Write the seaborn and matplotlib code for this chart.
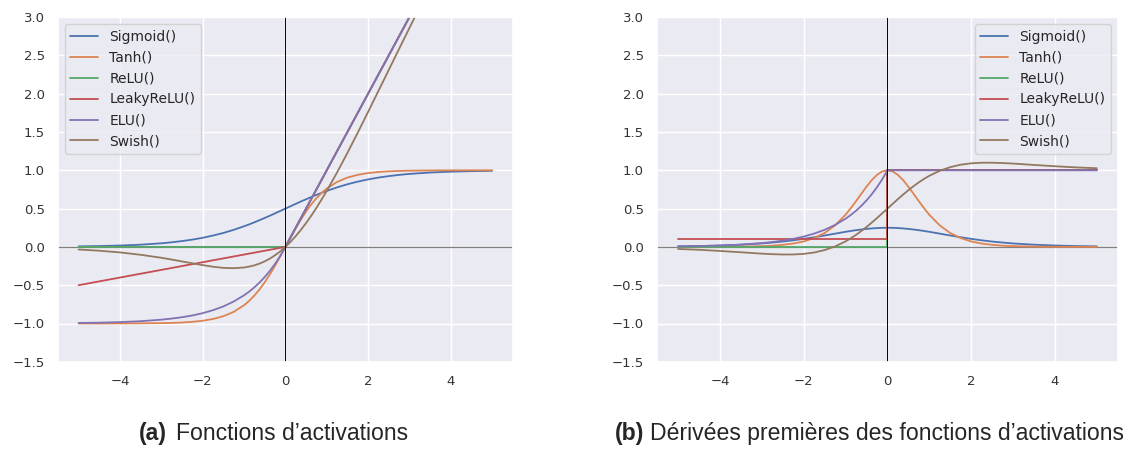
import matplotlib
matplotlib.use("Agg")
import matplotlib.pyplot as plt
import pandas as pd
import seaborn as sns

sns.set_theme(style="darkgrid", palette="deep")

names = ["Sigmoid()", "Tanh()", "ReLU()", "LeakyReLU()", "ELU()", "Swish()"]

# sample positions read along the x axis
x_fn = [-5, -4.5, -4, -3.5, -3, -2.75, -2.5, -2.25, -2, -1.75, -1.5, -1.25, -1, -0.875, -0.75, -0.625, -0.5, -0.375,
        -0.25, -0.125, 0, 0.125, 0.25, 0.375, 0.5, 0.625, 0.75, 0.875, 1, 1.25, 1.5, 1.75, 2, 2.25, 2.5, 2.75,
        3, 3.5, 4, 4.5, 5]
# same positions, with the jump at 0 listed twice
x_grad = [-5, -4.5, -4, -3.5, -3, -2.75, -2.5, -2.25, -2, -1.75, -1.5, -1.25, -1, -0.875, -0.75, -0.625, -0.5, -0.375,
          -0.25, -0.125, 0, 0, 0.125, 0.25, 0.375, 0.5, 0.625, 0.75, 0.875, 1, 1.25, 1.5, 1.75, 2, 2.25, 2.5, 2.75,
          3, 3.5, 4, 4.5, 5]

# (a) activation values
sigmoid = [0.007, 0.011, 0.018, 0.029, 0.047, 0.060, 0.076, 0.095, 0.119, 0.148, 0.182, 0.223, 0.269, 0.294,
           0.321, 0.349, 0.378, 0.407, 0.438, 0.469, 0.5, 0.531, 0.562, 0.593, 0.622, 0.651, 0.679, 0.706,
           0.731, 0.777, 0.818, 0.852, 0.881, 0.905, 0.924, 0.940, 0.953, 0.971, 0.982, 0.989, 0.993]
tanh = [-1.0, -1.0, -0.999, -0.998, -0.995, -0.992, -0.987, -0.978, -0.964, -0.941, -0.905, -0.848, -0.762, -0.704,
        -0.635, -0.555, -0.462, -0.358, -0.245, -0.124, 0.0, 0.124, 0.245, 0.358, 0.462, 0.555, 0.635, 0.704,
        0.762, 0.848, 0.905, 0.941, 0.964, 0.978, 0.987, 0.992, 0.995, 0.998, 0.999, 1.0, 1.0]
relu = [0, 0, 0, 0, 0, 0, 0, 0, 0, 0, 0, 0, 0, 0, 0, 0, 0, 0, 0, 0,
        0, 0.125, 0.25, 0.375, 0.5, 0.625, 0.75, 0.875, 1, 1.25, 1.5, 1.75, 2, 2.25, 2.5, 2.75, 3, 3.5, 4, 4.5, 5]
leaky = [-0.5, -0.45, -0.4, -0.35, -0.3, -0.275, -0.25, -0.225, -0.2, -0.175, -0.15, -0.125, -0.1, -0.0875,
         -0.075, -0.0625, -0.05, -0.0375, -0.025, -0.0125,
         0, 0.125, 0.25, 0.375, 0.5, 0.625, 0.75, 0.875, 1, 1.25, 1.5, 1.75, 2, 2.25, 2.5, 2.75, 3, 3.5, 4, 4.5, 5]
elu = [-0.993, -0.989, -0.982, -0.970, -0.950, -0.936, -0.918, -0.895, -0.865, -0.826, -0.777, -0.713, -0.632,
       -0.583, -0.528, -0.465, -0.393, -0.313, -0.221, -0.118,
       0, 0.125, 0.25, 0.375, 0.5, 0.625, 0.75, 0.875, 1, 1.25, 1.5, 1.75, 2, 2.25, 2.5, 2.75, 3, 3.5, 4, 4.5, 5]
swish = [-0.034, -0.050, -0.072, -0.103, -0.142, -0.165, -0.190, -0.214, -0.238, -0.259, -0.274, -0.278, -0.269,
         -0.257, -0.241, -0.218, -0.189, -0.153, -0.109, -0.059, 0, 0.066, 0.141, 0.222, 0.311, 0.407, 0.509,
         0.618, 0.731, 0.972, 1.227, 1.491, 1.762, 2.036, 2.31, 2.585, 2.858, 3.398, 3.928, 4.45, 4.966]

# (b) first derivatives
d_sigmoid = [0.007, 0.011, 0.018, 0.029, 0.045, 0.057, 0.070, 0.086, 0.105, 0.126, 0.149, 0.173, 0.197, 0.208,
             0.218, 0.227, 0.235, 0.241, 0.246, 0.249, 0.25, 0.25, 0.249, 0.246, 0.241, 0.235, 0.227, 0.218,
             0.208, 0.197, 0.173, 0.149, 0.126, 0.105, 0.086, 0.070, 0.057, 0.045, 0.029, 0.018, 0.011, 0.007]
d_tanh = [0.0, 0.0005, 0.001, 0.004, 0.010, 0.016, 0.027, 0.044, 0.071, 0.115, 0.181, 0.281, 0.420, 0.505,
          0.597, 0.692, 0.786, 0.872, 0.940, 0.985, 1.0, 1.0, 0.985, 0.940, 0.872, 0.786, 0.692, 0.597,
          0.505, 0.420, 0.281, 0.181, 0.115, 0.071, 0.044, 0.027, 0.016, 0.010, 0.004, 0.001, 0.0005, 0.0]
d_relu = [0, 0, 0, 0, 0, 0, 0, 0, 0, 0, 0, 0, 0, 0, 0, 0, 0, 0, 0, 0, 0,
          1, 1, 1, 1, 1, 1, 1, 1, 1, 1, 1, 1, 1, 1, 1, 1, 1, 1, 1, 1, 1]
d_leaky = [0.1, 0.1, 0.1, 0.1, 0.1, 0.1, 0.1, 0.1, 0.1, 0.1, 0.1, 0.1, 0.1, 0.1, 0.1, 0.1, 0.1, 0.1, 0.1, 0.1, 0.1,
           1, 1, 1, 1, 1, 1, 1, 1, 1, 1, 1, 1, 1, 1, 1, 1, 1, 1, 1, 1, 1]
d_elu = [0.007, 0.011, 0.018, 0.030, 0.050, 0.064, 0.082, 0.105, 0.135, 0.174, 0.223, 0.287, 0.368, 0.417,
         0.472, 0.535, 0.607, 0.687, 0.779, 0.882, 1, 1,
         1, 1, 1, 1, 1, 1, 1, 1, 1, 1, 1, 1, 1, 1, 1, 1, 1, 1, 1, 1]
d_swish = [-0.027, -0.038, -0.053, -0.070, -0.088, -0.095, -0.099, -0.099, -0.091, -0.073, -0.041, 0.006, 0.072,
           0.113, 0.157, 0.207, 0.260, 0.317, 0.376, 0.438, 0.5, 0.5, 0.562, 0.624, 0.683, 0.740, 0.793, 0.843,
           0.888, 0.928, 0.994, 1.041, 1.073, 1.091, 1.099, 1.099, 1.095, 1.088, 1.070, 1.053, 1.038, 1.027]


def long_frame(xs, series):
    rows = []
    for name, ys in zip(names, series):
        for x, y in zip(xs, ys):
            rows.append({"x": x, "y": y, "fn": name})
    return pd.DataFrame(rows)


df_a = long_frame(x_fn, [sigmoid, tanh, relu, leaky, elu, swish])
df_b = long_frame(x_grad, [d_sigmoid, d_tanh, d_relu, d_leaky, d_elu, d_swish])

fig = plt.figure(figsize=(11.37, 4.5), dpi=100)
ax_a = fig.add_axes([0.051, 0.196, 0.400, 0.766])
ax_b = fig.add_axes([0.578, 0.196, 0.405, 0.766])

for ax, df, loc in [(ax_a, df_a, "upper left"), (ax_b, df_b, "upper right")]:
    sns.lineplot(data=df, x="x", y="y", hue="fn", hue_order=names,
                 estimator=None, sort=False, linewidth=1.3, ax=ax)
    ax.axhline(0, color="gray", linewidth=0.9, zorder=1)
    ax.axvline(0, color="black", linewidth=0.7)
    ax.set_ylim(-1.5, 3.0)
    ax.set_xlim(-5.5, 5.5)
    ax.set_xticks([-4, -2, 0, 2, 4])
    ax.set_xlabel("")
    ax.set_ylabel("")
    ax.tick_params(labelsize=9.5, colors="#333333")
    ax.legend(loc=loc, fontsize=10, handlelength=2.0)

cap = dict(family=["Liberation Sans", "DejaVu Sans"], fontsize=16.6, va="baseline")
fig.text(139 / 1137, 0.022, "(a)", fontweight="bold", **cap)
fig.text(176 / 1137, 0.022, "Fonctions d\u2019activations", **cap)
fig.text(615 / 1137, 0.022, "(b)", fontweight="bold", **cap)
fig.text(650 / 1137, 0.022, "D\u00e9riv\u00e9es premi\u00e8res des fonctions d\u2019activations", **cap)

fig.savefig("out.png", dpi=100)
